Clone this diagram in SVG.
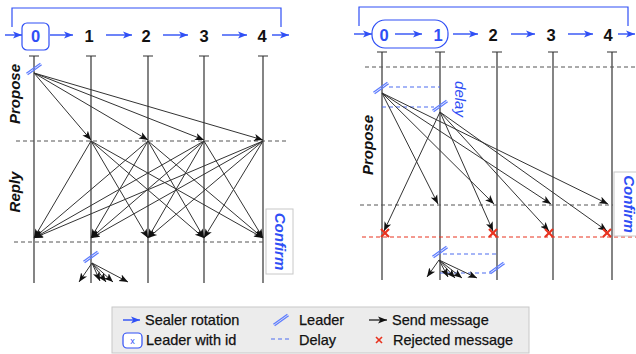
<svg xmlns="http://www.w3.org/2000/svg" xmlns:xlink="http://www.w3.org/1999/xlink" width="636" height="354" viewBox="0 0 636 354">
<style>
text{font-family:"Liberation Sans",Arial,sans-serif}
.hdr{font-size:16.5px;font-weight:bold;text-anchor:middle;fill:#111}
.hdrb{font-size:16.5px;font-weight:bold;text-anchor:middle;fill:#2f4ff5}
.rot{stroke:#2f4ff5;stroke-width:1.4;fill:none}
.brk{stroke:#2f4ff5;stroke-width:1.2;fill:none}
.life{stroke:#333;stroke-width:1.2}
.msg{stroke:#333;stroke-width:1;marker-end:url(#ah)}
.dash{stroke:#555;stroke-width:1;stroke-dasharray:4 3}
.rdash{stroke:#e8321e;stroke-width:1;stroke-dasharray:4 3}
.delay{stroke:#4d6cf0;stroke-width:1.2;stroke-dasharray:4 3}
.phase{font-size:15px;font-weight:bold;font-style:italic;fill:#111;text-anchor:middle}
.conf{font-size:15px;font-weight:bold;font-style:italic;fill:#2f4ff5;text-anchor:middle}
.cbox{fill:#fff;stroke:#c8c8c8;stroke-width:1}
.xm{stroke:#e8321e;stroke-width:2.2}
.leg{font-size:14.5px;fill:#111;stroke:#111;stroke-width:0.25}
</style>
<defs>
<marker id="ah" viewBox="0 0 10 10" refX="10" refY="5" markerWidth="9" markerHeight="9" markerUnits="userSpaceOnUse" orient="auto"><path d="M0,1 L10,5 L0,9 L2.5,5 z" fill="#111"/></marker>
<marker id="bh" viewBox="0 0 10 10" refX="10" refY="5" markerWidth="9" markerHeight="9" markerUnits="userSpaceOnUse" orient="auto"><path d="M0,1 L10,5 L0,9 L2.5,5 z" fill="#2f4ff5"/></marker>
<g id="ldr" stroke="#5d7cff" stroke-width="1.3"><line x1="-7.6" y1="4.2" x2="6.4" y2="-5.8"/><line x1="-6.4" y1="5.8" x2="7.6" y2="-4.2"/></g>
<g id="xx" class="xm"><line x1="-4" y1="-4" x2="4" y2="4"/><line x1="-4" y1="4" x2="4" y2="-4"/></g>
</defs>

<!-- LEFT DIAGRAM -->
<g id="left-header">
<polyline class="brk" points="12,27 12,8 281,8 281,27"/>
<rect x="22" y="23" width="27" height="27" rx="5" fill="#fff" stroke="#2f4ff5" stroke-width="1.2"/>
<text class="hdrb" x="35.5" y="42">0</text>
<text class="hdr" x="89" y="42">1</text>
<text class="hdr" x="146" y="42">2</text>
<text class="hdr" x="204" y="42">3</text>
<text class="hdr" x="262" y="42">4</text>
<line class="rot" x1="5" y1="35" x2="22" y2="35" marker-end="url(#bh)"/>
<line class="rot" x1="50" y1="35" x2="73" y2="35" marker-end="url(#bh)"/>
<line class="rot" x1="106" y1="35" x2="132" y2="35" marker-end="url(#bh)"/>
<line class="rot" x1="163" y1="35" x2="188" y2="35" marker-end="url(#bh)"/>
<line class="rot" x1="222" y1="35" x2="247" y2="35" marker-end="url(#bh)"/>
<line class="rot" x1="272" y1="35" x2="289" y2="35" marker-end="url(#bh)"/>
</g>
<g id="left-lifelines">
<line class="life" x1="34" y1="56" x2="34" y2="283" stroke="#777"/>
<line class="life" x1="91" y1="56" x2="91" y2="283"/>
<line class="life" x1="148" y1="56" x2="148" y2="283"/>
<line class="life" x1="204" y1="56" x2="204" y2="283"/>
<line class="life" x1="263" y1="56" x2="263" y2="283"/>
<path d="M29,56H39M86,56H96M143,56H153M199,56H209M258,56H268" stroke="#333" stroke-width="1.2"/>
</g>
<g id="left-phases">
<line class="dash" x1="16" y1="141" x2="287" y2="141"/>
<line class="dash" x1="14" y1="242" x2="265" y2="242" stroke="#111"/>
<text class="phase" transform="translate(20,94) rotate(-90)">Propose</text>
<text class="phase" transform="translate(20,192) rotate(-90)">Reply</text>
</g>
<g id="left-confirm">
<rect class="cbox" x="266" y="209" width="27" height="65"/>
<text class="conf" transform="translate(274.5,241.5) rotate(90)">Confirm</text>
</g>
<g id="left-connectors">
<use xlink:href="#ldr" href="#ldr" x="34" y="69"/>
<line class="msg" x1="34" y1="73" x2="91" y2="140"/>
<line class="msg" x1="34" y1="73" x2="148" y2="140"/>
<line class="msg" x1="34" y1="73" x2="204" y2="140"/>
<line class="msg" x1="34" y1="73" x2="263" y2="140"/>
<line class="msg" x1="91" y1="141" x2="34" y2="238"/>
<line class="msg" x1="91" y1="141" x2="148" y2="238"/>
<line class="msg" x1="91" y1="141" x2="204" y2="238"/>
<line class="msg" x1="91" y1="141" x2="263" y2="238"/>
<line class="msg" x1="148" y1="141" x2="34" y2="238"/>
<line class="msg" x1="148" y1="141" x2="91" y2="238"/>
<line class="msg" x1="148" y1="141" x2="204" y2="238"/>
<line class="msg" x1="148" y1="141" x2="263" y2="238"/>
<line class="msg" x1="204" y1="141" x2="34" y2="238"/>
<line class="msg" x1="204" y1="141" x2="91" y2="238"/>
<line class="msg" x1="204" y1="141" x2="148" y2="238"/>
<line class="msg" x1="204" y1="141" x2="263" y2="238"/>
<line class="msg" x1="263" y1="141" x2="34" y2="238"/>
<line class="msg" x1="263" y1="141" x2="91" y2="238"/>
<line class="msg" x1="263" y1="141" x2="148" y2="238"/>
<line class="msg" x1="263" y1="141" x2="204" y2="238"/>
<use xlink:href="#ldr" href="#ldr" x="91" y="257"/>
<line class="msg" x1="92" y1="263" x2="79" y2="282"/>
<line class="msg" x1="92" y1="263" x2="100" y2="281"/>
<line class="msg" x1="92" y1="263" x2="106" y2="282"/>
<line class="msg" x1="92" y1="263" x2="113" y2="282"/>
<line class="msg" x1="92" y1="263" x2="128" y2="282"/>
</g>

<!-- RIGHT DIAGRAM -->
<g id="right-header">
<polyline class="brk" points="359,26 359,7 628,7 628,26"/>
<rect x="372" y="20" width="76" height="28" rx="13" fill="#fff" stroke="#2f4ff5" stroke-width="1.2"/>
<text class="hdrb" x="384" y="41">0</text>
<text class="hdrb" x="438" y="41">1</text>
<text class="hdr" x="493" y="41">2</text>
<text class="hdr" x="551" y="41">3</text>
<text class="hdr" x="608" y="41">4</text>
<line class="rot" x1="354" y1="34" x2="372" y2="34" marker-end="url(#bh)"/>
<line class="rot" x1="395" y1="34" x2="422" y2="34" marker-end="url(#bh)"/>
<line class="rot" x1="453" y1="34" x2="478" y2="34" marker-end="url(#bh)"/>
<line class="rot" x1="511" y1="34" x2="535" y2="34" marker-end="url(#bh)"/>
<line class="rot" x1="568" y1="34" x2="593" y2="34" marker-end="url(#bh)"/>
<line class="rot" x1="618" y1="34" x2="635" y2="34" marker-end="url(#bh)"/>
</g>
<g id="right-lifelines">
<line class="life" x1="382" y1="52" x2="382" y2="280" stroke="#111"/>
<line class="life" x1="440" y1="52" x2="440" y2="280" stroke="#111"/>
<line class="life" x1="497" y1="52" x2="497" y2="280"/>
<line class="life" x1="553" y1="52" x2="553" y2="280" stroke="#777"/>
<line class="life" x1="612" y1="52" x2="612" y2="280" stroke="#777"/>
<path d="M377,52H387M435,52H445M492,52H502M548,52H558M607,52H617" stroke="#333" stroke-width="1.2"/>
</g>
<g id="right-phases">
<line class="dash" x1="365" y1="67" x2="636" y2="67"/>
<line class="dash" x1="360" y1="205" x2="613" y2="205"/>
<line class="rdash" x1="362" y1="237" x2="636" y2="237"/>
<text class="phase" transform="translate(373,145) rotate(-90)">Propose</text>
<text x="0" y="0" font-size="15" font-style="italic" fill="#2f4ff5" text-anchor="middle" transform="translate(455,99) rotate(90)">delay</text>
</g>
<g id="right-confirm">
<rect class="cbox" x="614" y="172" width="30" height="64"/>
<text class="conf" transform="translate(623.5,204) rotate(90)">Confirm</text>
</g>
<g id="right-connectors">
<line class="delay" x1="389" y1="87" x2="440" y2="87"/>
<line class="delay" x1="382" y1="107" x2="434" y2="107"/>
<use xlink:href="#ldr" href="#ldr" x="381" y="88"/>
<use xlink:href="#ldr" href="#ldr" x="440" y="106"/>
<line class="msg" x1="382" y1="93" x2="438" y2="204"/>
<line class="msg" x1="382" y1="93" x2="494" y2="204"/>
<line class="msg" x1="382" y1="93" x2="551" y2="204"/>
<line class="msg" x1="382" y1="93" x2="608" y2="204"/>
<line class="msg" x1="440" y1="112" x2="384" y2="231"/>
<line class="msg" x1="440" y1="112" x2="493" y2="231"/>
<line class="msg" x1="440" y1="112" x2="549" y2="231"/>
<line class="msg" x1="440" y1="112" x2="607" y2="231"/>
<use xlink:href="#xx" href="#xx" x="385" y="233"/>
<use xlink:href="#xx" href="#xx" x="493" y="233"/>
<use xlink:href="#xx" href="#xx" x="549" y="233"/>
<use xlink:href="#xx" href="#xx" x="607" y="233"/>
<line class="delay" x1="443" y1="254" x2="497" y2="254"/>
<line class="delay" x1="440" y1="273" x2="491" y2="273"/>
<use xlink:href="#ldr" href="#ldr" x="440" y="252"/>
<use xlink:href="#ldr" href="#ldr" x="497" y="268"/>
<line class="msg" x1="439" y1="260" x2="427" y2="277"/>
<line class="msg" x1="439" y1="260" x2="448" y2="277"/>
<line class="msg" x1="439" y1="260" x2="455" y2="278"/>
<line class="msg" x1="439" y1="260" x2="462" y2="278"/>
<line class="msg" x1="439" y1="260" x2="477" y2="278"/>
</g>

<!-- LEGEND -->
<g id="legend">
<rect x="112" y="307" width="417" height="46" fill="#ececec" stroke="#c8c8c8" stroke-width="1"/>
<line class="rot" x1="123" y1="320" x2="140" y2="320" marker-end="url(#bh)"/>
<text class="leg" x="145" y="325">Sealer rotation</text>
<rect x="123" y="333" width="19" height="15" rx="4" fill="#fff" stroke="#2f4ff5" stroke-width="1.2"/>
<text x="132.5" y="343.5" font-size="9" fill="#2f4ff5" text-anchor="middle">x</text>
<text class="leg" x="146" y="345">Leader with id</text>
<use xlink:href="#ldr" href="#ldr" x="281" y="320"/>
<text class="leg" x="299" y="325">Leader</text>
<line class="delay" x1="271" y1="339" x2="290" y2="339"/>
<text class="leg" x="299" y="345">Delay</text>
<line x1="369" y1="320" x2="387" y2="320" stroke="#111" stroke-width="1.2" marker-end="url(#ah)"/>
<text class="leg" x="392" y="325">Send message</text>
<g transform="translate(379,340) scale(0.75)"><use xlink:href="#xx" href="#xx"/></g>
<text class="leg" x="393" y="345">Rejected message</text>
</g>
</svg>
